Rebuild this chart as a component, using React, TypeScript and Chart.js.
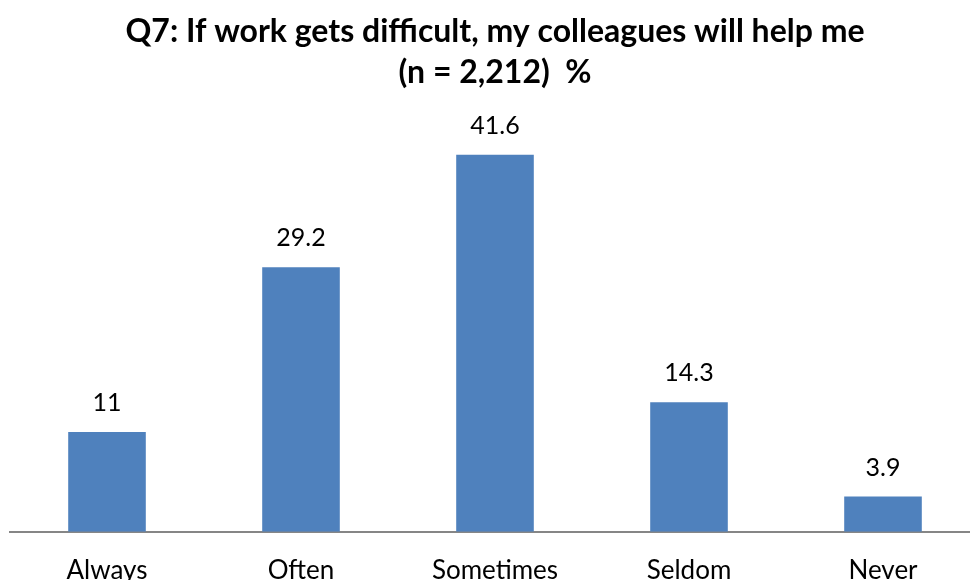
import React, { useEffect, useRef } from "react";
import { Chart, registerables } from "chart.js";

Chart.register(...registerables);

const categories = ["Always", "Often", "Sometimes", "Seldom", "Never"];
const values = [11, 29.2, 41.6, 14.3, 3.9];
const valueLabels = ["11", "29.2", "41.6", "14.3", "3.9"];
const titleLines = ["Q7: If work gets difficult, my colleagues will help me", "(n = 2,212)  %"];

const FONT = "Lato, 'Open Sans', sans-serif";

const dataLabelPlugin = {
  id: "dataLabels",
  afterDatasetsDraw(chart: any) {
    const ctx = chart.ctx;
    const meta = chart.getDatasetMeta(0);
    ctx.save();
    ctx.font = `25px ${FONT}`;
    ctx.fillStyle = "#000000";
    ctx.textAlign = "center";
    ctx.textBaseline = "middle";
    meta.data.forEach((bar: any, i: number) => {
      ctx.fillText(valueLabels[i], bar.x, bar.y - 29);
    });
    ctx.restore();
  },
};

export default function App() {
  const ref = useRef<HTMLCanvasElement | null>(null);
  useEffect(() => {
    document.body.style.margin = "0";
    document.body.style.overflow = "hidden";
    const chart = new Chart(ref.current!, {
      type: "bar",
      data: {
        labels: categories,
        datasets: [
          {
            data: values,
            backgroundColor: "#4F81BD",
            borderWidth: 0,
            barPercentage: 0.4,
            categoryPercentage: 1,
          },
        ],
      },
      options: {
        animation: false,
        responsive: false,
        layout: { padding: { left: 10, right: 10, top: 0, bottom: -29 } },
        plugins: {
          legend: { display: false },
          tooltip: { enabled: false },
          title: {
            display: true,
            text: titleLines,
            color: "#000000",
            font: { family: FONT, size: 32, weight: "bold", lineHeight: 1.28 },
            padding: { top: 11, bottom: 31 },
          },
        },
        scales: {
          x: {
            grid: { display: false, drawTicks: false },
            border: { display: true, color: "#868686", width: 2 },
            ticks: { color: "#000000", font: { family: FONT, size: 26 }, padding: 23 },
          },
          y: {
            display: false,
            min: 0,
            max: 45,
          },
        },
      },
      plugins: [dataLabelPlugin],
    });
    return () => chart.destroy();
  }, []);
  return (
    <div style={{ position: "absolute", left: 0, top: 0, width: 990, height: 580 }}>
      <canvas ref={ref} width={990} height={580} style={{ display: "block" }} />
    </div>
  );
}
